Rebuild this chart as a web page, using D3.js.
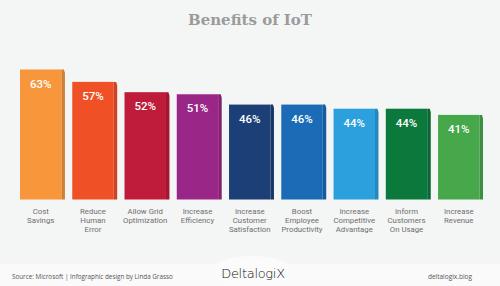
<!DOCTYPE html>
<html>
<head>
<meta charset="utf-8">
<script src="https://cdn.jsdelivr.net/npm/d3@7"></script>
<style>
  html, body { margin: 0; padding: 0; background: #f4f5f5; }
  svg { display: block; }
</style>
</head>
<body>
<div id="chart"></div>
<script>
// data
var categories = [
  ["Cost", "Savings"],
  ["Reduce", "Human", "Error"],
  ["Allow Grid", "Optimization"],
  ["Increase", "Efficiency"],
  ["Increase", "Customer", "Satisfaction"],
  ["Boost", "Employee", "Productivity"],
  ["Increase", "Competitive", "Advantage"],
  ["Inform", "Customers", "On Usage"],
  ["Increase", "Revenue"]
];
var values = [63, 57, 52, 51, 46, 46, 44, 44, 41];
var barColors = ["#f7963b", "#ef5026", "#bf1b3b", "#9a2687", "#1c3f78",
                 "#1b6bb7", "#2c9fdd", "#0b793b", "#46a84b"];

var width = 500, height = 286;

var svg = d3.select("#chart").append("svg")
  .attr("width", width).attr("height", height);

svg.append("rect").attr("width", width).attr("height", height).attr("fill", "#f4f5f5");

// footer band
svg.append("rect").attr("x", 0).attr("y", 264).attr("width", width).attr("height", 22)
  .attr("fill", "#fafafa");
svg.append("ellipse").attr("cx", 252).attr("cy", 272).attr("rx", 42).attr("ry", 16)
  .attr("fill", "#fbfbfb");

svg.append("text")
  .attr("x", 250).attr("y", 25)
  .attr("text-anchor", "middle")
  .attr("font-family", "DejaVu Serif")
  .attr("font-weight", "bold")
  .attr("font-size", 15)
  .attr("fill", "#9b9b9b")
  .text("Benefits of IoT");

var x = d3.scaleBand()
  .domain(d3.range(values.length))
  .range([20, 483])
  .paddingInner(0.14)
  .paddingOuter(0);

var y = d3.scaleLinear().domain([0, 63]).range([199.5, 69.5]);

var side = 3.5;
var bw = x.bandwidth();

var bars = svg.selectAll(".bar")
  .data(values)
  .enter()
  .append("g")
  .attr("class", "bar")
  .attr("transform", function(d, i){ return "translate(" + x(i) + ",0)"; });

// front face
bars.append("rect")
  .attr("x", 0)
  .attr("y", function(d){ return y(d); })
  .attr("width", bw - side)
  .attr("height", function(d){ return y(0) - y(d); })
  .attr("fill", function(d, i){ return barColors[i]; });

// darker right side with bevelled top
bars.append("path")
  .attr("d", function(d){
    var t = y(d), b = y(0), x0 = bw - side;
    return "M" + x0 + "," + t + "L" + (bw - 1) + "," + t + "L" + bw + "," + (t + side) +
      "L" + bw + "," + b + "L" + x0 + "," + b + "Z";
  })
  .attr("fill", function(d, i){ return d3.color(barColors[i]).darker(0.45); });

bars.append("text")
  .attr("x", (bw - side) / 2)
  .attr("y", function(d){ return y(d) + 18; })
  .attr("text-anchor", "middle")
  .attr("font-family", "Roboto")
  .attr("font-weight", 500)
  .attr("font-size", 11.5)
  .attr("fill", "#ffffff")
  .text(function(d){ return d + "%"; });

// category labels, one text per line
svg.selectAll(".cat")
  .data(categories.reduce(function(acc, lines, i){
    lines.forEach(function(s, j){ acc.push({s: s, i: i, j: j}); });
    return acc;
  }, []))
  .enter()
  .append("text")
  .attr("class", "cat")
  .attr("x", function(d){ return x(d.i) + (bw - side) / 2; })
  .attr("y", function(d){ return 213.5 + d.j * 9.1; })
  .attr("text-anchor", "middle")
  .attr("font-family", "Roboto")
  .attr("font-size", 7.8)
  .attr("fill", "#6f6f6f")
  .text(function(d){ return d.s; });

// footer
svg.append("text")
  .attr("x", 12).attr("y", 278.5)
  .attr("font-family", "Open Sans")
  .attr("font-size", 6.3)
  .attr("fill", "#555")
  .text("Source: Microsoft  |  Infographic design by Linda Grasso");

svg.append("text")
  .attr("x", 472).attr("y", 278.5)
  .attr("text-anchor", "end")
  .attr("font-family", "Open Sans")
  .attr("font-size", 6.5)
  .attr("fill", "#555")
  .text("deltalogix.blog");

svg.append("text")
  .attr("x", 253).attr("y", 278)
  .attr("text-anchor", "middle")
  .attr("font-family", "DejaVu Sans")
  .attr("font-weight", 300)
  .attr("font-size", 13)
  .attr("letter-spacing", -0.3)
  .attr("fill", "#111")
  .text("DeltalogiX");
</script>
</body>
</html>
